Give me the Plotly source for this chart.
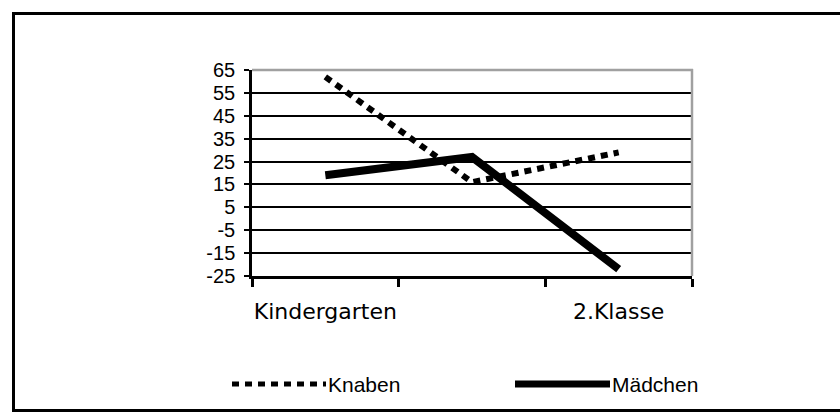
import plotly.graph_objects as go

# Categories and values
categories = ["Kindergarten", "1.Klasse", "2.Klasse"]
tick_labels = ["Kindergarten", "", "2.Klasse"]
knaben = [62, 16, 29]
maedchen = [19, 27, -22]
y_ticks = [-25, -15, -5, 5, 15, 25, 35, 45, 55, 65]
y_tick_text = ["-25", "-15", "-5", "5", "15", "25", "35", "45", "55", "65"]

W, H = 840, 412


def px(x):
    return x / W


def py(y):
    return (H - y) / H


def hline(x0, x1, y, color, width, dash="solid"):
    return dict(type="line", xref="paper", yref="paper",
                x0=px(x0), x1=px(x1), y0=py(y), y1=py(y),
                line=dict(color=color, width=width, dash=dash), layer="above")


def vline(x, y0, y1, color, width):
    return dict(type="line", xref="paper", yref="paper",
                x0=px(x), x1=px(x), y0=py(y0), y1=py(y1),
                line=dict(color=color, width=width), layer="above")


x_pos = list(range(len(categories)))

fig = go.Figure()
fig.add_trace(go.Scatter(
    x=x_pos, y=knaben, mode="lines", name="Knaben",
    line=dict(color="black", width=6, dash="7px,6px"),
    hoverinfo="skip", customdata=categories,
))
fig.add_trace(go.Scatter(
    x=x_pos, y=maedchen, mode="lines", name="Mädchen",
    line=dict(color="black", width=8),
    hoverinfo="skip", customdata=categories,
))

shapes = [
    # outer frame (open to the right)
    hline(12, 840, 13.5, "black", 3),
    hline(12, 840, 410.5, "black", 3),
    vline(13.5, 12, 412, "black", 3),
    # grey plot-area border on top and right
    hline(252, 693, 70, "#a0a0a0", 2.5),
    vline(692, 276, 69, "#a0a0a0", 2.5),
    # legend samples
    hline(232, 326, 384, "black", 5, "7px,6px"),
    hline(515, 610, 384, "black", 7),
]

annotations = [
    dict(text="Knaben", xref="paper", yref="paper", x=px(326), y=py(384),
         xanchor="left", yanchor="middle", showarrow=False,
         font=dict(family="Liberation Sans", size=21, color="black")),
    dict(text="Mädchen", xref="paper", yref="paper", x=px(610), y=py(384),
         xanchor="left", yanchor="middle", showarrow=False,
         font=dict(family="Liberation Sans", size=21, color="black")),
]

fig.update_layout(
    width=W, height=H,
    margin=dict(l=0, r=0, t=0, b=0, autoexpand=False),
    paper_bgcolor="white", plot_bgcolor="white",
    showlegend=False,
    shapes=shapes, annotations=annotations,
    xaxis=dict(
        domain=[px(252), px(692)],
        range=[-0.5, 2.5],
        automargin=False,
        tickmode="array", tickvals=x_pos, ticktext=tick_labels,
        ticks="", showgrid=False, zeroline=False,
        showline=True, linecolor="black", linewidth=2.5,
        ticklabelstandoff=14,
        tickfont=dict(family="DejaVu Sans", size=22, color="black"),
        minor=dict(tickmode="array", tickvals=[-0.5, 0.5, 1.5, 2.5],
                   ticks="outside", ticklen=8, tickwidth=2.5,
                   tickcolor="black", showgrid=False),
    ),
    yaxis=dict(
        domain=[py(276), py(70)],
        range=[-25, 65],
        automargin=False,
        tickmode="array", tickvals=y_ticks, ticktext=y_tick_text,
        ticks="outside", ticklen=5, tickwidth=2, tickcolor="black",
        showgrid=True, gridcolor="black", gridwidth=2,
        zeroline=False,
        showline=True, linecolor="black", linewidth=2.5,
        ticklabelstandoff=5,
        tickfont=dict(family="Liberation Sans", size=20, color="black"),
    ),
)

fig.write_html("out.html")
